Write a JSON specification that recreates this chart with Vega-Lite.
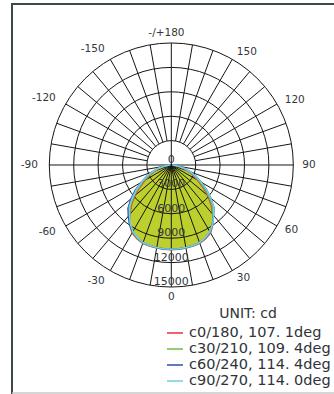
{
  "$schema": "https://vega.github.io/schema/vega-lite/v6.json",
  "width": 324,
  "height": 392,
  "autosize": {"type": "none"},
  "padding": {"left": 12, "top": 4, "right": -2, "bottom": -2},
  "background": "white",
  "config": {"view": {"stroke": "#3d474c", "strokeWidth": 2}, "font": "DejaVu Sans"},
  "datasets": {
    "rings": [{"v": 3000}, {"v": 6000}, {"v": 9000}, {"v": 12000}, {"v": 15000}],
    "rlabels": [{"v": 0, "t": "0"}, {"v": 3000, "t": "3000"}, {"v": 6000, "t": "6000"}, {"v": 9000, "t": "9000"}, {"v": 12000, "t": "12000"}, {"v": 15000, "t": "15000"}],
    "spokes": [{"a": -170}, {"a": -160}, {"a": -150}, {"a": -140}, {"a": -130}, {"a": -120}, {"a": -110}, {"a": -100}, {"a": -90}, {"a": -80}, {"a": -70}, {"a": -60}, {"a": -50}, {"a": -40}, {"a": -30}, {"a": -20}, {"a": -10}, {"a": 0}, {"a": 10}, {"a": 20}, {"a": 30}, {"a": 40}, {"a": 50}, {"a": 60}, {"a": 70}, {"a": 80}, {"a": 90}, {"a": 100}, {"a": 110}, {"a": 120}, {"a": 130}, {"a": 140}, {"a": 150}, {"a": 160}, {"a": 170}, {"a": 180}],
    "alabels": [{"a": 180, "t": "-/+180"}, {"a": 150, "t": "150"}, {"a": 120, "t": "120"}, {"a": 90, "t": "90"}, {"a": 60, "t": "60"}, {"a": 30, "t": "30"}, {"a": 0, "t": "0"}, {"a": -30, "t": "-30"}, {"a": -60, "t": "-60"}, {"a": -90, "t": "-90"}, {"a": -120, "t": "-120"}, {"a": -150, "t": "-150"}],
    "curves": [
      {"c": "c0/180, 107. 1deg", "a": -90, "i": 100}, {"c": "c0/180, 107. 1deg", "a": -85, "i": 400}, {"c": "c0/180, 107. 1deg", "a": -80, "i": 850}, {"c": "c0/180, 107. 1deg", "a": -75, "i": 1450}, {"c": "c0/180, 107. 1deg", "a": -70, "i": 2150}, {"c": "c0/180, 107. 1deg", "a": -65, "i": 2900}, {"c": "c0/180, 107. 1deg", "a": -60, "i": 3750}, {"c": "c0/180, 107. 1deg", "a": -55, "i": 4750}, {"c": "c0/180, 107. 1deg", "a": -50, "i": 5850}, {"c": "c0/180, 107. 1deg", "a": -45, "i": 6950}, {"c": "c0/180, 107. 1deg", "a": -40, "i": 7950}, {"c": "c0/180, 107. 1deg", "a": -35, "i": 8900}, {"c": "c0/180, 107. 1deg", "a": -30, "i": 9650}, {"c": "c0/180, 107. 1deg", "a": -25, "i": 10000}, {"c": "c0/180, 107. 1deg", "a": -20, "i": 10250}, {"c": "c0/180, 107. 1deg", "a": -15, "i": 10320}, {"c": "c0/180, 107. 1deg", "a": -10, "i": 10360}, {"c": "c0/180, 107. 1deg", "a": -5, "i": 10390}, {"c": "c0/180, 107. 1deg", "a": 0, "i": 10400}, {"c": "c0/180, 107. 1deg", "a": 5, "i": 10390}, {"c": "c0/180, 107. 1deg", "a": 10, "i": 10360}, {"c": "c0/180, 107. 1deg", "a": 15, "i": 10320}, {"c": "c0/180, 107. 1deg", "a": 20, "i": 10250}, {"c": "c0/180, 107. 1deg", "a": 25, "i": 10000}, {"c": "c0/180, 107. 1deg", "a": 30, "i": 9650}, {"c": "c0/180, 107. 1deg", "a": 35, "i": 8900}, {"c": "c0/180, 107. 1deg", "a": 40, "i": 7950}, {"c": "c0/180, 107. 1deg", "a": 45, "i": 6950}, {"c": "c0/180, 107. 1deg", "a": 50, "i": 5850}, {"c": "c0/180, 107. 1deg", "a": 55, "i": 4750}, {"c": "c0/180, 107. 1deg", "a": 60, "i": 3750}, {"c": "c0/180, 107. 1deg", "a": 65, "i": 2900}, {"c": "c0/180, 107. 1deg", "a": 70, "i": 2150}, {"c": "c0/180, 107. 1deg", "a": 75, "i": 1450}, {"c": "c0/180, 107. 1deg", "a": 80, "i": 850}, {"c": "c0/180, 107. 1deg", "a": 85, "i": 400}, {"c": "c0/180, 107. 1deg", "a": 90, "i": 100},
      {"c": "c30/210, 109. 4deg", "a": -90, "i": 120}, {"c": "c30/210, 109. 4deg", "a": -85, "i": 450}, {"c": "c30/210, 109. 4deg", "a": -80, "i": 920}, {"c": "c30/210, 109. 4deg", "a": -75, "i": 1580}, {"c": "c30/210, 109. 4deg", "a": -70, "i": 2300}, {"c": "c30/210, 109. 4deg", "a": -65, "i": 3080}, {"c": "c30/210, 109. 4deg", "a": -60, "i": 3950}, {"c": "c30/210, 109. 4deg", "a": -55, "i": 4950}, {"c": "c30/210, 109. 4deg", "a": -50, "i": 6050}, {"c": "c30/210, 109. 4deg", "a": -45, "i": 7100}, {"c": "c30/210, 109. 4deg", "a": -40, "i": 7980}, {"c": "c30/210, 109. 4deg", "a": -35, "i": 8850}, {"c": "c30/210, 109. 4deg", "a": -30, "i": 9550}, {"c": "c30/210, 109. 4deg", "a": -25, "i": 9930}, {"c": "c30/210, 109. 4deg", "a": -20, "i": 10200}, {"c": "c30/210, 109. 4deg", "a": -15, "i": 10290}, {"c": "c30/210, 109. 4deg", "a": -10, "i": 10340}, {"c": "c30/210, 109. 4deg", "a": -5, "i": 10370}, {"c": "c30/210, 109. 4deg", "a": 0, "i": 10380}, {"c": "c30/210, 109. 4deg", "a": 5, "i": 10370}, {"c": "c30/210, 109. 4deg", "a": 10, "i": 10340}, {"c": "c30/210, 109. 4deg", "a": 15, "i": 10290}, {"c": "c30/210, 109. 4deg", "a": 20, "i": 10200}, {"c": "c30/210, 109. 4deg", "a": 25, "i": 9930}, {"c": "c30/210, 109. 4deg", "a": 30, "i": 9550}, {"c": "c30/210, 109. 4deg", "a": 35, "i": 8850}, {"c": "c30/210, 109. 4deg", "a": 40, "i": 7980}, {"c": "c30/210, 109. 4deg", "a": 45, "i": 7100}, {"c": "c30/210, 109. 4deg", "a": 50, "i": 6050}, {"c": "c30/210, 109. 4deg", "a": 55, "i": 4950}, {"c": "c30/210, 109. 4deg", "a": 60, "i": 3950}, {"c": "c30/210, 109. 4deg", "a": 65, "i": 3080}, {"c": "c30/210, 109. 4deg", "a": 70, "i": 2300}, {"c": "c30/210, 109. 4deg", "a": 75, "i": 1580}, {"c": "c30/210, 109. 4deg", "a": 80, "i": 920}, {"c": "c30/210, 109. 4deg", "a": 85, "i": 450}, {"c": "c30/210, 109. 4deg", "a": 90, "i": 120},
      {"c": "c60/240, 114. 4deg", "a": -90, "i": 150}, {"c": "c60/240, 114. 4deg", "a": -85, "i": 510}, {"c": "c60/240, 114. 4deg", "a": -80, "i": 1010}, {"c": "c60/240, 114. 4deg", "a": -75, "i": 1720}, {"c": "c60/240, 114. 4deg", "a": -70, "i": 2520}, {"c": "c60/240, 114. 4deg", "a": -65, "i": 3330}, {"c": "c60/240, 114. 4deg", "a": -60, "i": 4250}, {"c": "c60/240, 114. 4deg", "a": -55, "i": 5400}, {"c": "c60/240, 114. 4deg", "a": -50, "i": 6470}, {"c": "c60/240, 114. 4deg", "a": -45, "i": 7520}, {"c": "c60/240, 114. 4deg", "a": -40, "i": 8200}, {"c": "c60/240, 114. 4deg", "a": -35, "i": 8950}, {"c": "c60/240, 114. 4deg", "a": -30, "i": 9480}, {"c": "c60/240, 114. 4deg", "a": -25, "i": 9870}, {"c": "c60/240, 114. 4deg", "a": -20, "i": 10160}, {"c": "c60/240, 114. 4deg", "a": -15, "i": 10260}, {"c": "c60/240, 114. 4deg", "a": -10, "i": 10310}, {"c": "c60/240, 114. 4deg", "a": -5, "i": 10350}, {"c": "c60/240, 114. 4deg", "a": 0, "i": 10360}, {"c": "c60/240, 114. 4deg", "a": 5, "i": 10350}, {"c": "c60/240, 114. 4deg", "a": 10, "i": 10310}, {"c": "c60/240, 114. 4deg", "a": 15, "i": 10260}, {"c": "c60/240, 114. 4deg", "a": 20, "i": 10160}, {"c": "c60/240, 114. 4deg", "a": 25, "i": 9870}, {"c": "c60/240, 114. 4deg", "a": 30, "i": 9480}, {"c": "c60/240, 114. 4deg", "a": 35, "i": 8830}, {"c": "c60/240, 114. 4deg", "a": 40, "i": 8080}, {"c": "c60/240, 114. 4deg", "a": 45, "i": 7400}, {"c": "c60/240, 114. 4deg", "a": 50, "i": 6350}, {"c": "c60/240, 114. 4deg", "a": 55, "i": 5280}, {"c": "c60/240, 114. 4deg", "a": 60, "i": 4250}, {"c": "c60/240, 114. 4deg", "a": 65, "i": 3330}, {"c": "c60/240, 114. 4deg", "a": 70, "i": 2520}, {"c": "c60/240, 114. 4deg", "a": 75, "i": 1720}, {"c": "c60/240, 114. 4deg", "a": 80, "i": 1010}, {"c": "c60/240, 114. 4deg", "a": 85, "i": 510}, {"c": "c60/240, 114. 4deg", "a": 90, "i": 150},
      {"c": "c90/270, 114. 0deg", "a": -90, "i": 150}, {"c": "c90/270, 114. 0deg", "a": -85, "i": 500}, {"c": "c90/270, 114. 0deg", "a": -80, "i": 1000}, {"c": "c90/270, 114. 0deg", "a": -75, "i": 1700}, {"c": "c90/270, 114. 0deg", "a": -70, "i": 2500}, {"c": "c90/270, 114. 0deg", "a": -65, "i": 3300}, {"c": "c90/270, 114. 0deg", "a": -60, "i": 4200}, {"c": "c90/270, 114. 0deg", "a": -55, "i": 5200}, {"c": "c90/270, 114. 0deg", "a": -50, "i": 6250}, {"c": "c90/270, 114. 0deg", "a": -45, "i": 7300}, {"c": "c90/270, 114. 0deg", "a": -40, "i": 8000}, {"c": "c90/270, 114. 0deg", "a": -35, "i": 8800}, {"c": "c90/270, 114. 0deg", "a": -30, "i": 9450}, {"c": "c90/270, 114. 0deg", "a": -25, "i": 9850}, {"c": "c90/270, 114. 0deg", "a": -20, "i": 10150}, {"c": "c90/270, 114. 0deg", "a": -15, "i": 10250}, {"c": "c90/270, 114. 0deg", "a": -10, "i": 10300}, {"c": "c90/270, 114. 0deg", "a": -5, "i": 10340}, {"c": "c90/270, 114. 0deg", "a": 0, "i": 10350}, {"c": "c90/270, 114. 0deg", "a": 5, "i": 10340}, {"c": "c90/270, 114. 0deg", "a": 10, "i": 10300}, {"c": "c90/270, 114. 0deg", "a": 15, "i": 10250}, {"c": "c90/270, 114. 0deg", "a": 20, "i": 10150}, {"c": "c90/270, 114. 0deg", "a": 25, "i": 9850}, {"c": "c90/270, 114. 0deg", "a": 30, "i": 9450}, {"c": "c90/270, 114. 0deg", "a": 35, "i": 8880}, {"c": "c90/270, 114. 0deg", "a": 40, "i": 8080}, {"c": "c90/270, 114. 0deg", "a": 45, "i": 7380}, {"c": "c90/270, 114. 0deg", "a": 50, "i": 6330}, {"c": "c90/270, 114. 0deg", "a": 55, "i": 5280}, {"c": "c90/270, 114. 0deg", "a": 60, "i": 4200}, {"c": "c90/270, 114. 0deg", "a": 65, "i": 3300}, {"c": "c90/270, 114. 0deg", "a": 70, "i": 2500}, {"c": "c90/270, 114. 0deg", "a": 75, "i": 1700}, {"c": "c90/270, 114. 0deg", "a": 80, "i": 1000}, {"c": "c90/270, 114. 0deg", "a": 85, "i": 500}, {"c": "c90/270, 114. 0deg", "a": 90, "i": 150}
    ]
  },
  "layer": [
    {
      "data": {"name": "curves"},
      "transform": [
        {"calculate": "datum.i * sin(datum.a * PI / 180)", "as": "x"},
        {"calculate": "-datum.i * cos(datum.a * PI / 180)", "as": "y"}
      ],
      "mark": {"type": "line", "fill": "#bccf2d", "strokeWidth": 0},
      "encoding": {
        "x": {"field": "x", "type": "quantitative", "scale": {"domain": [-19586, 20250], "nice": false, "zero": false}, "axis": null},
        "y": {"field": "y", "type": "quantitative", "scale": {"domain": [-28402, 19795], "nice": false, "zero": false}, "axis": null},
        "detail": {"field": "c"},
        "order": {"field": "a", "type": "quantitative"}
      }
    },
    {
      "data": {"values": [{"b": -28033}]},
      "mark": {"type": "rule", "color": "#c8c8c8", "strokeWidth": 1.5},
      "encoding": {
        "y": {"field": "b", "type": "quantitative"}
      }
    },
    {
      "data": {"name": "rings"},
      "mark": {"type": "point", "shape": "circle", "filled": false, "stroke": "#151515", "strokeWidth": 1, "opacity": 1},
      "encoding": {
        "x": {"datum": 0, "type": "quantitative"},
        "y": {"datum": 0, "type": "quantitative"},
        "size": {"field": "v", "type": "quantitative", "scale": {"type": "pow", "exponent": 2, "domain": [0, 15000], "range": [0, 59536], "zero": true}, "legend": null}
      }
    },
    {
      "data": {"name": "spokes"},
      "transform": [
        {"calculate": "(abs(datum.a) <= 90 || datum.a == 180) ? 0 : 3000", "as": "r0"},
        {"calculate": "datum.r0 * sin(datum.a * PI / 180)", "as": "x"},
        {"calculate": "-datum.r0 * cos(datum.a * PI / 180)", "as": "y"},
        {"calculate": "15000 * sin(datum.a * PI / 180)", "as": "x2"},
        {"calculate": "-15000 * cos(datum.a * PI / 180)", "as": "y2"}
      ],
      "mark": {"type": "rule", "color": "#151515", "strokeWidth": 1},
      "encoding": {
        "x": {"field": "x", "type": "quantitative"},
        "y": {"field": "y", "type": "quantitative"},
        "x2": {"field": "x2"},
        "y2": {"field": "y2"}
      }
    },
    {
      "data": {"name": "curves"},
      "transform": [
        {"calculate": "datum.i * sin(datum.a * PI / 180)", "as": "x"},
        {"calculate": "-datum.i * cos(datum.a * PI / 180)", "as": "y"}
      ],
      "mark": {"type": "line", "strokeWidth": 1.6},
      "encoding": {
        "x": {"field": "x", "type": "quantitative"},
        "y": {"field": "y", "type": "quantitative"},
        "order": {"field": "a", "type": "quantitative"},
        "color": {
          "field": "c", "type": "nominal", "title": "UNIT: cd",
          "scale": {"domain": ["c0/180, 107. 1deg", "c30/210, 109. 4deg", "c60/240, 114. 4deg", "c90/270, 114. 0deg"], "range": ["#e8303a", "#6dbe45", "#2a4fae", "#74cfe3"]},
          "legend": {
            "orient": "none", "legendX": 154, "legendY": 303,
            "titleAnchor": "middle", "titleFont": "DejaVu Sans", "titleFontSize": 14, "titleFontWeight": "normal", "titleColor": "#2f333a", "titlePadding": 3,
            "labelFont": "DejaVu Sans", "labelFontSize": 14.5, "labelColor": "#2f333a", "labelOffset": 5, "labelLimit": 300,
            "symbolType": "stroke", "symbolSize": 256, "symbolStrokeWidth": 1.5, "rowPadding": 0, "padding": 0
          }
        }
      }
    },
    {
      "data": {"name": "rlabels"},
      "transform": [{"calculate": "-datum.v", "as": "y"}],
      "mark": {"type": "text", "font": "DejaVu Sans", "fontSize": 11, "color": "#33373c", "align": "center", "baseline": "middle", "dy": -5},
      "encoding": {
        "x": {"datum": 0, "type": "quantitative"},
        "y": {"field": "y", "type": "quantitative"},
        "text": {"field": "t"}
      }
    },
    {
      "data": {"name": "alabels"},
      "transform": [
        {"filter": "datum.a > 0 && datum.a < 180"},
        {"calculate": "16100 * sin(datum.a * PI / 180)", "as": "x"},
        {"calculate": "-16100 * cos(datum.a * PI / 180)", "as": "y"}
      ],
      "mark": {"type": "text", "font": "DejaVu Sans", "fontSize": 10.5, "color": "#33373c", "align": "left", "baseline": "middle"},
      "encoding": {
        "x": {"field": "x", "type": "quantitative"},
        "y": {"field": "y", "type": "quantitative"},
        "text": {"field": "t"}
      }
    },
    {
      "data": {"name": "alabels"},
      "transform": [
        {"filter": "datum.a < 0"},
        {"calculate": "16400 * sin(datum.a * PI / 180)", "as": "x"},
        {"calculate": "-16400 * cos(datum.a * PI / 180)", "as": "y"}
      ],
      "mark": {"type": "text", "font": "DejaVu Sans", "fontSize": 10.5, "color": "#33373c", "align": "right", "baseline": "middle"},
      "encoding": {
        "x": {"field": "x", "type": "quantitative"},
        "y": {"field": "y", "type": "quantitative"},
        "text": {"field": "t"}
      }
    },
    {
      "data": {"name": "alabels"},
      "transform": [
        {"filter": "datum.a == 0 || datum.a == 180"},
        {"calculate": "datum.a == 180 ? -600 : 0", "as": "x"},
        {"calculate": "-16200 * cos(datum.a * PI / 180)", "as": "y"}
      ],
      "mark": {"type": "text", "font": "DejaVu Sans", "fontSize": 10.5, "color": "#33373c", "align": "center", "baseline": "middle"},
      "encoding": {
        "x": {"field": "x", "type": "quantitative"},
        "y": {"field": "y", "type": "quantitative"},
        "text": {"field": "t"}
      }
    }
  ]
}
